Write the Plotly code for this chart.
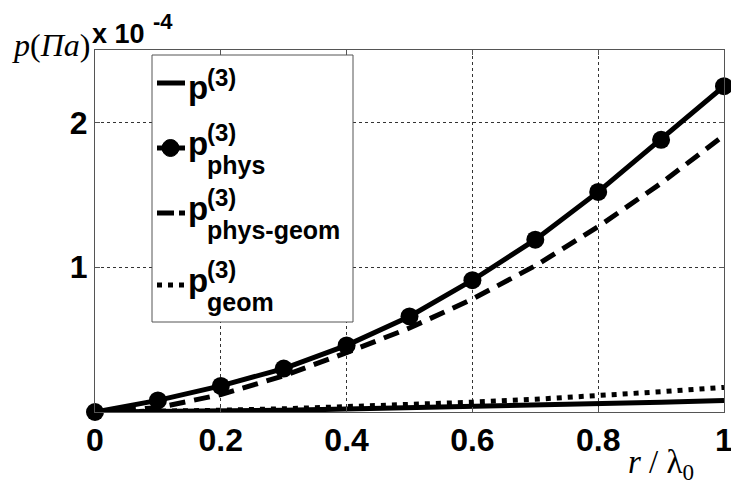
import plotly.graph_objects as go

# ---- data (values in units of 1e-4 Pa) ----
r_over_lambda = [0.0, 0.1, 0.2, 0.3, 0.4, 0.5, 0.6, 0.7, 0.8, 0.9, 1.0]
p3_total = [0, 0.002, 0.006, 0.012, 0.020, 0.028, 0.037, 0.047, 0.057, 0.068, 0.080]
p3_phys = [0, 0.08, 0.18, 0.30, 0.46, 0.66, 0.91, 1.19, 1.52, 1.88, 2.25]
p3_phys_geom = [0, 0.03, 0.12, 0.25, 0.41, 0.58, 0.78, 1.01, 1.28, 1.58, 1.91]
p3_geom = [0, 0.004, 0.012, 0.022, 0.035, 0.050, 0.068, 0.088, 0.110, 0.140, 0.170]
x_ticks = [0, 0.2, 0.4, 0.6, 0.8, 1.0]
x_tick_text = ["0", "0.2", "0.4", "0.6", "0.8", "1"]
y_ticks = [1, 2]
y_tick_text = ["1", "2"]
legend_subs = ["", "phys", "phys-geom", "geom"]

W, H = 731, 486
ML, MR, MT, MB = 95, 7, 50, 74
PW, PH = W - ML - MR, H - MT - MB

SANS = "Liberation Sans, Arial, sans-serif"
SERIF = "Liberation Serif, Times New Roman, serif"


def px(x):
    return (x - ML) / PW


def py(y):
    return 1 - (y - MT) / PH


fig = go.Figure()
fig.add_trace(go.Scatter(x=r_over_lambda, y=p3_total, mode="lines",
                         line=dict(color="black", width=5), showlegend=False))
fig.add_trace(go.Scatter(x=r_over_lambda, y=p3_phys, mode="lines+markers",
                         line=dict(color="black", width=5), cliponaxis=False,
                         marker=dict(color="black", size=18), showlegend=False))
fig.add_trace(go.Scatter(x=r_over_lambda, y=p3_phys_geom, mode="lines",
                         line=dict(color="black", width=5, dash="16px,9px"),
                         showlegend=False))
fig.add_trace(go.Scatter(x=r_over_lambda, y=p3_geom, mode="lines",
                         line=dict(color="black", width=5, dash="5px,6px"),
                         showlegend=False))

axis_common = dict(showline=True, linecolor="#555", linewidth=1, mirror="ticks",
                   ticks="inside", ticklen=5, tickcolor="#555",
                   showgrid=True, gridcolor="#333", gridwidth=1, griddash="dot",
                   zeroline=False, automargin=False,
                   tickfont=dict(family=SANS, size=32, color="black", weight="bold"))
fig.update_xaxes(range=[0, 1], tickvals=x_ticks, ticktext=x_tick_text,
                 ticklabeloverflow="allow", **axis_common)
fig.update_yaxes(range=[0, 2.5], tickvals=y_ticks, ticktext=y_tick_text, **axis_common)

shapes = []
annotations = []

# custom legend box
shapes.append(dict(type="rect", xref="paper", yref="paper",
                   x0=px(152), x1=px(353), y0=py(322), y1=py(55),
                   line=dict(color="#555", width=1), fillcolor="white", layer="above"))
rows = [83, 148, 213, 285]
styles = ["solid", "solid", "dash", "dot"]
for i, cy in enumerate(rows):
    if styles[i] == "dash":
        dash = "17px,5px"
    elif styles[i] == "dot":
        dash = "5px,6px"
    else:
        dash = "solid"
    shapes.append(dict(type="line", xref="paper", yref="paper",
                       x0=px(157), x1=px(185), y0=py(cy), y1=py(cy),
                       line=dict(color="black", width=5, dash=dash), layer="above"))
    if i == 1:
        shapes.append(dict(type="circle", xref="paper", yref="paper",
                           x0=px(162), x1=px(179), y0=py(cy + 8.5), y1=py(cy - 8.5),
                           fillcolor="black", line=dict(color="black", width=1), layer="above"))
    has_sub = bool(legend_subs[i])
    p_c = cy - 5 if has_sub else cy + 4
    s_c = cy - 16 if has_sub else cy - 6
    annotations.append(dict(xref="paper", yref="paper", x=px(186), y=py(p_c),
                            xanchor="left", yanchor="middle", showarrow=False,
                            text="<b>p</b>", font=dict(family=SANS, size=33, color="black")))
    annotations.append(dict(xref="paper", yref="paper", x=px(205), y=py(s_c),
                            xanchor="left", yanchor="middle", showarrow=False,
                            text="<b>(3)</b>", font=dict(family=SANS, size=24, color="black")))
    if has_sub:
        annotations.append(dict(xref="paper", yref="paper", x=px(205), y=py(cy + 17),
                                xanchor="left", yanchor="middle", showarrow=False,
                                text="<b>" + legend_subs[i] + "</b>",
                                font=dict(family=SANS, size=25, color="black")))

# axis titles
annotations.append(dict(xref="paper", yref="paper", x=px(10), y=py(45),
                        xanchor="left", yanchor="middle", showarrow=False,
                        text="<i>p</i>(<i>Па</i>)",
                        font=dict(family=SERIF, size=32, color="black")))
annotations.append(dict(xref="paper", yref="paper", x=px(90), y=py(34),
                        xanchor="left", yanchor="middle", showarrow=False,
                        text="<b>x 10</b>",
                        font=dict(family=SANS, size=27, color="black")))
annotations.append(dict(xref="paper", yref="paper", x=px(151), y=py(22),
                        xanchor="left", yanchor="middle", showarrow=False,
                        text="<b>-4</b>",
                        font=dict(family=SANS, size=22, color="black")))
annotations.append(dict(xref="paper", yref="paper", x=px(626), y=py(464),
                        xanchor="left", yanchor="middle", showarrow=False,
                        text="<i>r</i> / λ<sub>0</sub>",
                        font=dict(family=SERIF, size=33, color="black")))

fig.update_layout(width=W, height=H, margin=dict(l=ML, r=MR, t=MT, b=MB),
                  paper_bgcolor="white", plot_bgcolor="white",
                  shapes=shapes, annotations=annotations, showlegend=False)

fig.write_html("out.html", config={"displayModeBar": False},
               post_script="document.body.style.margin='0px';document.body.style.overflow='hidden';")
